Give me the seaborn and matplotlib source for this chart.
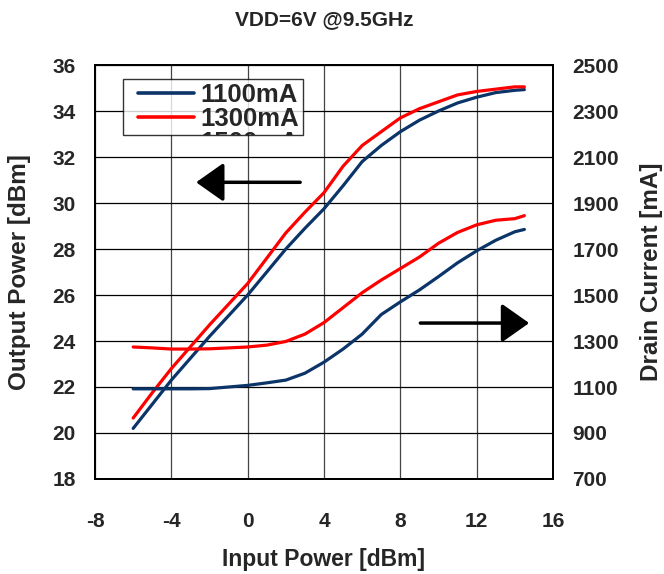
import numpy as np
import pandas as pd
import matplotlib
matplotlib.use("Agg")
import matplotlib.pyplot as plt
from matplotlib.legend_handler import HandlerLine2D
from matplotlib.transforms import Bbox
import seaborn as sns

# input power sweep [dBm]
PIN = [-6, -5, -4, -3, -2, -1, 0, 1, 2, 3, 4, 5, 6, 7, 8, 9, 10, 11, 12, 13, 14, 14.5]

# output power [dBm]
POUT_1100 = [20.2, 21.25, 22.3, 23.25, 24.2, 25.1, 26.0, 27.0, 28.0, 28.9, 29.75,
             30.75, 31.8, 32.5, 33.1, 33.6, 34.0, 34.35, 34.6, 34.8, 34.9, 34.93]
POUT_1300 = [20.65, 21.75, 22.8, 23.75, 24.7, 25.6, 26.5, 27.6, 28.7, 29.6, 30.45,
             31.6, 32.5, 33.1, 33.7, 34.1, 34.4, 34.7, 34.85, 34.95, 35.05, 35.05]

# drain current [mA]
ID_1100 = [1092, 1092, 1092, 1092, 1093, 1100, 1107, 1118, 1130, 1160, 1208,
           1265, 1330, 1415, 1470, 1522, 1580, 1640, 1692, 1738, 1775, 1785]
ID_1300 = [1274, 1270, 1265, 1265, 1266, 1270, 1274, 1282, 1298, 1330, 1380,
           1445, 1510, 1565, 1615, 1665, 1725, 1772, 1805, 1825, 1832, 1845]

LABELS = ["1100mA", "1300mA"]
HIDDEN_LABEL = "1500mA"
COLORS = ["#0b3468", "#ff0000"]

X_TICKS = [-8, -4, 0, 4, 8, 12, 16]
Y_TICKS = [18, 20, 22, 24, 26, 28, 30, 32, 34, 36]
Y2_TICKS = [700, 900, 1100, 1300, 1500, 1700, 1900, 2100, 2300, 2500]

sns.set_style("white")
plt.rcParams["font.family"] = ["Liberation Sans", "DejaVu Sans"]
plt.rcParams["font.weight"] = "bold"
plt.rcParams["axes.unicode_minus"] = False

FS = 15       # tick labels
LFS = 17.5    # axis labels
LEG_FS = 18.5

df = pd.DataFrame({
    "pin": PIN * 2,
    "pout": POUT_1100 + POUT_1300,
    "id": ID_1100 + ID_1300,
    "bias": [LABELS[0]] * len(PIN) + [LABELS[1]] * len(PIN),
})
palette = dict(zip(LABELS, COLORS))

fig = plt.figure(figsize=(6.64, 5.74), dpi=100)
ax = fig.add_axes([95 / 664, 95 / 574, 458 / 664, 414 / 574])
ax2 = ax.twinx()

sns.lineplot(data=df, x="pin", y="pout", hue="bias", palette=palette,
             ax=ax, lw=2.3, legend=False, sort=False)
sns.lineplot(data=df, x="pin", y="id", hue="bias", palette=palette,
             ax=ax2, lw=2.3, legend=False, sort=False)

ax.set_xlim(-8, 16)
ax.set_ylim(18, 36)
ax2.set_ylim(700, 2500)
ax.set_xticks(X_TICKS)
ax.set_yticks(Y_TICKS)
ax2.set_yticks(Y2_TICKS)

ax.grid(True, axis="y", color="black", lw=0.9)
ax.grid(True, axis="x", color="#444444", lw=0.9)
ax.set_axisbelow(True)

for a in (ax, ax2):
    for s in a.spines.values():
        s.set_color("black")
        s.set_linewidth(1.4)
    a.tick_params(length=0, labelsize=FS)
ax.tick_params(axis="x", pad=24)
ax.tick_params(axis="y", pad=14)
ax2.tick_params(axis="y", pad=14)

ax.set_xlabel("Input Power [dBm]", fontsize=LFS - 1, fontweight="bold", labelpad=12)
ax.set_ylabel("Output Power [dBm]", fontsize=LFS, fontweight="bold", labelpad=15)
ax2.set_ylabel("Drain Current [mA]", fontsize=LFS, fontweight="bold", labelpad=15)
ax.set_title("VDD=6V @9.5GHz", fontsize=FS, fontweight="bold", pad=29)

# direction arrows
arrow_kw = dict(arrowstyle="-|>,head_length=0.85,head_width=0.6",
                color="black", lw=2.5, mutation_scale=20, shrinkA=0, shrinkB=0)
ax.annotate("", xy=(-2.7, 30.9), xytext=(2.75, 30.9), arrowprops=arrow_kw)
ax.annotate("", xy=(14.75, 24.78), xytext=(9.05, 24.78), arrowprops=arrow_kw)

# legend (third entry cut off by the frame as in the original)
handles = [plt.Line2D([], [], color=c, lw=2.6) for c in COLORS]
leg = ax2.legend(handles, LABELS, loc="upper left", bbox_to_anchor=(0.061, 0.966),
                 fontsize=LEG_FS, frameon=True, fancybox=False, edgecolor="black",
                 borderpad=0.15, labelspacing=0.0, handlelength=2.6,
                 handletextpad=0.27, borderaxespad=0,
                 handler_map={plt.Line2D: HandlerLine2D(xpad=0.45)})
leg.get_frame().set_linewidth(1.0)
leg.set_zorder(5)

fig.canvas.draw()
frame_bb = leg.get_frame().get_window_extent()
t0, t1 = [tt.get_window_extent() for tt in leg.get_texts()]
step = t0.y0 - t1.y0
tx, ty = ax2.transAxes.inverted().transform((t1.x0, t1.y0 - step))
t = ax2.text(tx, ty, HIDDEN_LABEL, transform=ax2.transAxes, fontsize=LEG_FS,
             fontweight="bold", ha="left", va="bottom", zorder=6)
t.set_clip_box(Bbox(frame_bb.get_points()))
t.set_clip_on(True)

fig.savefig("out.png", dpi=100, facecolor="white")
